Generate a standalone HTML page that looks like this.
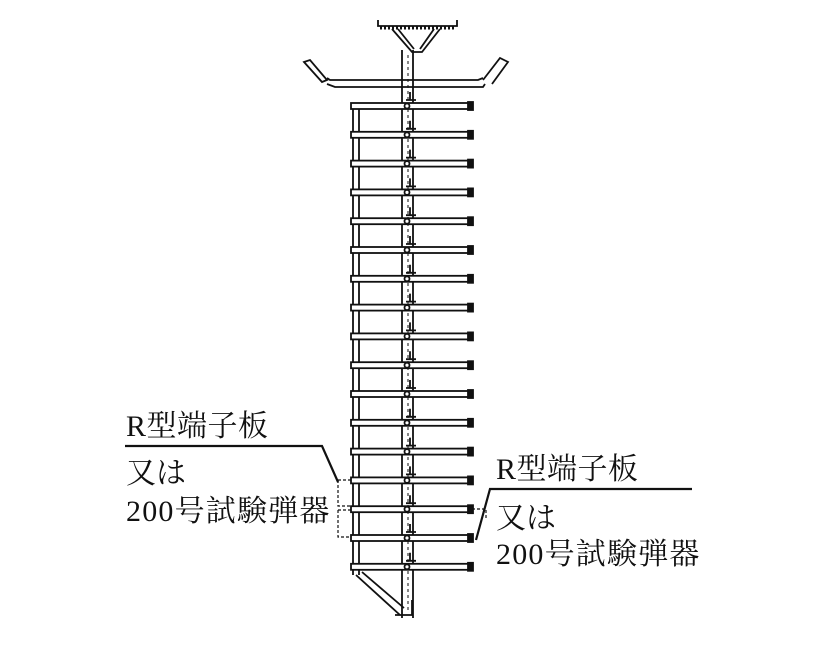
<!DOCTYPE html>
<html><head><meta charset="utf-8"><style>
html,body{margin:0;padding:0;background:#fff;}
svg text{font-family:"Liberation Serif","Noto Serif CJK SC",serif;fill:#111;}
</style></head><body>
<svg width="820" height="640" viewBox="0 0 820 640" xmlns="http://www.w3.org/2000/svg">
<g stroke="#111" fill="none" stroke-width="1.8">
<path d="M378 20 L378 26 L457 26 L457 20"/>
<path d="M380 28 L455 28" stroke-dasharray="2 2" stroke-width="3"/>
<path d="M392 29 L412 52 L422 52 L440 29"/>
<path d="M398 29 L414 49 M434 29 L420 49"/>
<path d="M327 78 L330 80 L478 80 L483 78 M327 84 L335 87 L483 87 L485 84"/>
<path d="M304 62 L310 60 L327 80 L322 82 Z"/>
<path d="M483 80 L500 58 L508 62 L492 84"/>
<path d="M402 50 L402 618 M413 50 L413 618"/>
<path d="M408 55 L408 610" stroke-dasharray="3 3" stroke-width="1"/>
<path d="M353 104 L353 575 M359 104 L359 575"/>
<path d="M356 575 L400 615 M362 572 L404 608 M395 615 L412 615 L412 600"/>
<path d="M338 480 L352 480 M338 480 L338 506 L352 506 M338 510 L352 510 M338 510 L338 537 L352 537" stroke-dasharray="3 2" stroke-width="1.2"/>
<path d="M472 509 L486 509 L486 520" stroke-dasharray="3 2" stroke-width="1.2"/>
</g>
<g id="rungs" stroke="#111" stroke-width="1.8" fill="#fff"></g>
<script>
var g=document.getElementById('rungs');var ns='http://www.w3.org/2000/svg';
for(var i=0;i<17;i++){var y=106+i*28.8;
var r=document.createElementNS(ns,'rect');r.setAttribute('x',351);r.setAttribute('y',y-3);r.setAttribute('width',118);r.setAttribute('height',6);g.appendChild(r);
var c=document.createElementNS(ns,'rect');c.setAttribute('x',468);c.setAttribute('y',y-4);c.setAttribute('width',5);c.setAttribute('height',8);c.setAttribute('fill','#111');g.appendChild(c);
var h=document.createElementNS(ns,'path');h.setAttribute('d','M410 '+(y-14)+' L410 '+(y-6)+' M406 '+(y-6)+' l10 0');h.setAttribute('fill','none');g.appendChild(h);
var o=document.createElementNS(ns,'circle');o.setAttribute('cx',407);o.setAttribute('cy',y);o.setAttribute('r',2.5);g.appendChild(o);}
</script>
<g stroke="#111" fill="none" stroke-width="2.2">
<path d="M125 446 L322 446 L338 482"/>
<path d="M692 489 L490 489 L476 540"/>
</g>
<text x="126" y="436" font-size="30" letter-spacing="0.5">R型端子板</text>
<text x="126" y="483" font-size="30">又は</text>
<text x="126" y="521" font-size="30" letter-spacing="1.2">200号試験弾器</text>
<text x="496" y="479" font-size="30" letter-spacing="0.5">R型端子板</text>
<text x="496" y="528" font-size="30">又は</text>
<text x="496" y="564" font-size="30" letter-spacing="1.2">200号試験弾器</text>
</svg>
</body></html>
